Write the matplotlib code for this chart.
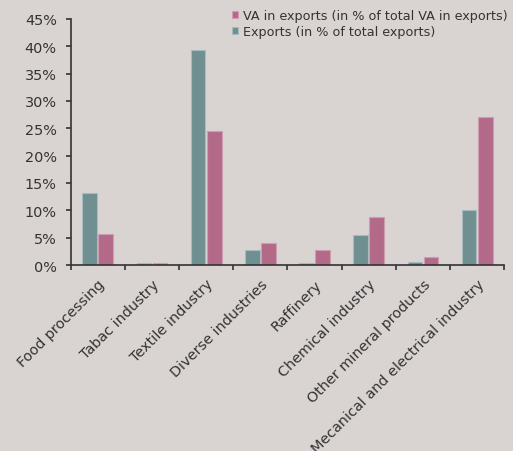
import numpy as np
import matplotlib
matplotlib.use("Agg")
import matplotlib.pyplot as plt
from matplotlib.ticker import PercentFormatter, FixedLocator

# data (share in %)
categories = ["Food processing", "Tabac industry", "Textile industry",
              "Diverse industries", "Raffinery", "Chemical industry",
              "Other mineral products", "Mecanical and electrical industry"]
exports = [13.1, 0.3, 39.3, 2.75, 0.3, 5.45, 0.5, 10.1]
va_exports = [5.7, 0.3, 24.5, 4.1, 2.75, 8.75, 1.4, 27.05]

bg = "#d9d4d2"
teal = "#6f8f91"
pink = "#b36a88"
dark = "#333333"

fig = plt.figure(figsize=(5.13, 4.52), dpi=100, facecolor=bg)
ax = fig.add_axes([0.1378, 0.4115, 0.8452, 0.5443])
ax.set_facecolor(bg)

x = np.arange(len(categories))
w = 0.27
ax.bar(x - 0.148, exports, width=w, color=teal, edgecolor="#a9bcbd", linewidth=0.8,
       label="Exports (in % of total exports)")
ax.bar(x + 0.148, va_exports, width=w, color=pink, edgecolor="#d09cb1", linewidth=0.8,
       label="VA in exports (in % of total VA in exports)")

ax.set_xlim(-0.5, len(categories) - 0.5)
ax.set_ylim(0, 45)
ax.set_yticks(np.arange(0, 46, 5))
ax.yaxis.set_major_formatter(PercentFormatter(decimals=0))

ax.set_xticks(x)
ax.set_xticklabels(categories, rotation=45, ha="right", rotation_mode="anchor")
ax.xaxis.set_minor_locator(FixedLocator(np.arange(-0.5, len(categories), 1)))
ax.tick_params(axis="x", which="major", length=0, pad=8.5)
ax.tick_params(axis="x", which="minor", length=3.8, width=1.2, color=dark, direction="out")
ax.tick_params(axis="y", length=3.6, width=1.2, color=dark, direction="out", pad=6.5)
ax.tick_params(labelsize=10.4, labelcolor=dark)

for s in ["top", "right"]:
    ax.spines[s].set_visible(False)
for s in ["left", "bottom"]:
    ax.spines[s].set_color(dark)
    ax.spines[s].set_linewidth(1.2)

h, l = ax.get_legend_handles_labels()
leg = ax.legend(h[::-1], l[::-1], loc="upper left", bbox_to_anchor=(0.365, 1.052),
                frameon=False, fontsize=9.2, handlelength=0.5, handleheight=0.5,
                handletextpad=0.4, labelspacing=0.25, labelcolor=dark,
                borderpad=0.2, borderaxespad=0)

fig.savefig("out.png", dpi=100, facecolor=bg)
